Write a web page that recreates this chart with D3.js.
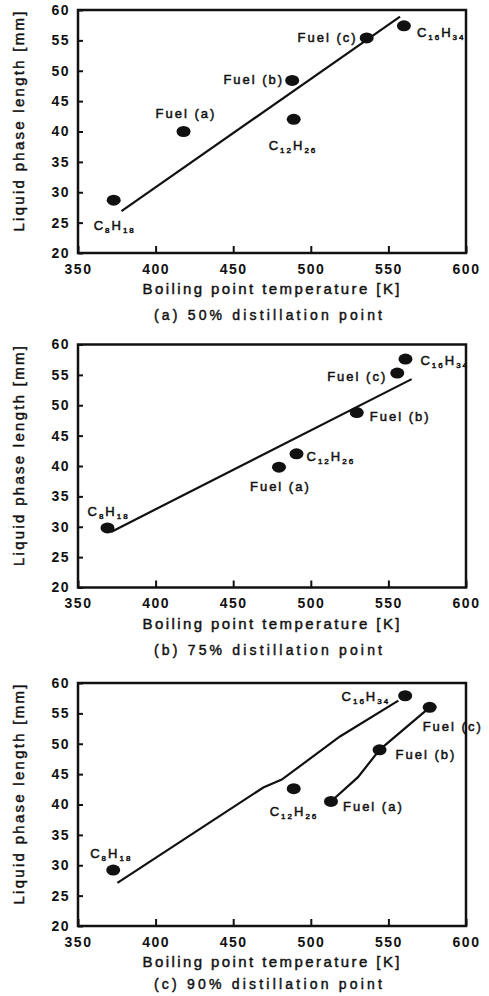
<!DOCTYPE html>
<html>
<head>
<meta charset="utf-8">
<script src="https://cdn.jsdelivr.net/npm/d3@7"></script>
<style>
  body { margin: 0; background: #fff; }
  svg text { font-family: "Liberation Sans", Arial, sans-serif; fill: #111; }
  .tick text { font-size: 14px; font-weight: bold; letter-spacing: 1.5px; }
  .ptlabel { font-size: 13px; letter-spacing: 2px; stroke: #111; stroke-width: 0.5px; }
  .title { font-size: 15px; stroke: #111; stroke-width: 0.45px; }
  .caption { font-size: 14px; stroke: #111; stroke-width: 0.45px; }
</style>
</head>
<body>
<svg id="fig" width="489" height="996"></svg>
<script>
// 1. DATA
const xTicks = [350, 400, 450, 500, 550, 600];
const yTicks = [20, 25, 30, 35, 40, 45, 50, 55, 60];
const substances = ["C8H18", "Fuel (a)", "Fuel (b)", "C12H26", "Fuel (c)", "C16H34"];

// (a) 50% distillation point
const boil50 = [373, 418, 488, 489, 536, 560];
const len50 = [28.7, 40, 48.4, 42, 55.4, 57.4];
const fit50T = [378, 557.5];
const fit50L = [26.9, 58.9];

// (b) 75% distillation point
const boil75 = [369, 479.5, 529.6, 490.8, 555.7, 561];
const len75 = [29.8, 39.8, 48.8, 42, 55.3, 57.6];
const fit75T = [371.3, 565];
const fit75L = [29.15, 54.3];

// (c) 90% distillation point
const boil90 = [372.7, 513, 544.3, 489, 576.6, 560.8];
const len90 = [29.2, 40.5, 49, 42.6, 56, 57.9];
const fit90T = [375.4, 469.4, 481.3, 518.8, 556.4];
const fit90L = [27.1, 42.8, 44.1, 51.2, 57.1];
const fuel90T = [513, 530.4, 544.3, 576.6];
const fuel90L = [40.5, 44.5, 49, 56];

const captions = ["(a) 50% distillation point", "(b) 75% distillation point", "(c) 90% distillation point"];

// 2. LAYOUT
const plotLeft = 78, plotWidth = 388, plotHeight = 243;
const panelTops = [10, 344.5, 683];
const captionOffsets = [67, 67, 63];

// label offsets from marker centre [dx, dy, anchor]
const labelPos50 = [[-20, 30, "start"], [-28, -14, "start"], [-8, 4, "end"], [-25, 31, "start"], [-9, 4, "end"], [13, 11, "start"]];
const labelPos75 = [[-20, -12, "start"], [-29, 24, "start"], [13, 8, "start"], [10, 7, "start"], [-10, 8, "end"], [15, 6, "start"]];
const labelPos90 = [[-23, -12, "start"], [12, 10, "start"], [16, 9, "start"], [-24, 27, "start"], [-7, 24, "start"], [-15, 5, "end"]];

const panels = [
  { boil: boil50, len: len50, lines: [[fit50T, fit50L]], labels: labelPos50 },
  { boil: boil75, len: len75, lines: [[fit75T, fit75L]], labels: labelPos75 },
  { boil: boil90, len: len90, lines: [[fit90T, fit90L], [fuel90T, fuel90L]], labels: labelPos90 }
];

const svg = d3.select("#fig");

const x = d3.scaleLinear().domain([350, 600]).range([0, plotWidth]);
const y = d3.scaleLinear().domain([20, 60]).range([plotHeight, 0]);

const line = d3.line().x(d => x(d[0])).y(d => y(d[1]));

function drawLabel(g, name, px, py, pos) {
  const t = g.append("text")
      .attr("class", "ptlabel")
      .attr("x", px + pos[0])
      .attr("y", py + pos[1])
      .attr("text-anchor", pos[2]);
  const m = name.match(/^C(\d+)H(\d+)$/);
  if (m) {
    t.append("tspan").text("C");
    t.append("tspan").attr("dy", 3).style("font-size", "8px").text(m[1]);
    t.append("tspan").attr("dy", -3).text("H");
    t.append("tspan").attr("dy", 3).style("font-size", "8px").text(m[2]);
  } else {
    t.text(name);
  }
}

panels.forEach((p, k) => {
  const g = svg.append("g")
      .attr("transform", `translate(${plotLeft}, ${panelTops[k]})`);

  // axes (inward ticks)
  const xAxis = g.append("g")
      .attr("transform", `translate(0, ${plotHeight})`)
      .call(d3.axisBottom(x).tickValues(xTicks).tickSize(-7).tickPadding(11));
  const yAxis = g.append("g")
      .call(d3.axisLeft(y).tickValues(yTicks).tickSize(-5).tickPadding(8));

  [xAxis, yAxis].forEach(a => {
    a.select(".domain").remove();
    a.selectAll(".tick line").attr("stroke", "#111").attr("stroke-width", 2);
  });

  // frame
  g.append("rect")
      .attr("width", plotWidth)
      .attr("height", plotHeight)
      .attr("fill", "none")
      .attr("stroke", "#111")
      .attr("stroke-width", 2.5);

  // lines
  p.lines.forEach(([ts, ls]) => {
    g.append("path")
        .datum(ts.map((t, i) => [t, ls[i]]))
        .attr("fill", "none")
        .attr("stroke", "#111")
        .attr("stroke-width", 2.2)
        .attr("d", line);
  });

  // points
  g.selectAll(".pt")
      .data(substances)
      .enter()
      .append("ellipse")
      .attr("class", "pt")
      .attr("cx", (d, i) => x(p.boil[i]))
      .attr("cy", (d, i) => y(p.len[i]))
      .attr("rx", 7)
      .attr("ry", 5.5)
      .attr("fill", "#111");

  substances.forEach((name, i) => {
    drawLabel(g, name, x(p.boil[i]), y(p.len[i]), p.labels[i]);
  });

  // axis titles
  g.append("text")
      .attr("class", "title")
      .attr("x", plotWidth / 2 - 1)
      .attr("y", plotHeight + 41)
      .attr("text-anchor", "middle")
      .attr("textLength", 257)
      .attr("lengthAdjust", "spacing")
      .text("Boiling point temperature [K]");

  g.append("text")
      .attr("class", "title")
      .attr("transform", "rotate(-90)")
      .attr("x", -(plotHeight / 2 - 10))
      .attr("y", -plotLeft + 23.5)
      .attr("text-anchor", "middle")
      .attr("textLength", 220)
      .attr("lengthAdjust", "spacing")
      .text("Liquid phase length [mm]");

  g.append("text")
      .attr("class", "caption")
      .attr("x", plotWidth / 2 - 4)
      .attr("y", plotHeight + captionOffsets[k])
      .attr("text-anchor", "middle")
      .attr("textLength", 228)
      .attr("lengthAdjust", "spacing")
      .text(captions[k]);
});
</script>
</body>
</html>
